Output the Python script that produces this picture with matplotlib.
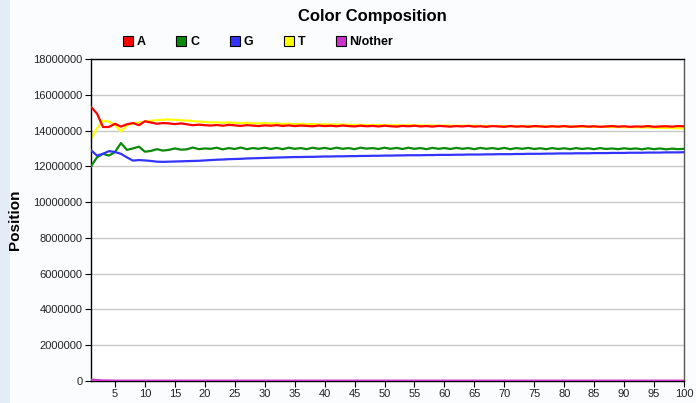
import numpy as np
import matplotlib
matplotlib.use("Agg")
import matplotlib.pyplot as plt
from matplotlib.lines import Line2D
from matplotlib.patches import Rectangle

plt.rcParams['font.family'] = ['Liberation Sans', 'DejaVu Sans']

#########################
######### DATA (values in millions)
#########################

positions = list(range(1, 101))

base_A = [15.32, 14.95, 14.20, 14.20, 14.38, 14.22, 14.35, 14.42, 14.30, 14.52,
          14.45, 14.38, 14.42, 14.40, 14.36, 14.40, 14.35, 14.30, 14.33, 14.30,
          14.28, 14.31, 14.27, 14.32, 14.29, 14.26, 14.30, 14.28, 14.25, 14.29,
          14.27, 14.30, 14.26, 14.29, 14.25, 14.28, 14.26, 14.24, 14.28, 14.25,
          14.27, 14.24, 14.28, 14.25, 14.23, 14.27, 14.24, 14.26, 14.23, 14.27,
          14.24, 14.22, 14.26, 14.24, 14.27, 14.23, 14.25, 14.22, 14.26, 14.24,
          14.22, 14.25, 14.23, 14.26, 14.22, 14.24, 14.21, 14.25, 14.23, 14.21,
          14.25, 14.22, 14.24, 14.21, 14.25, 14.23, 14.21, 14.24, 14.22, 14.25,
          14.21, 14.23, 14.25, 14.22, 14.24, 14.21, 14.23, 14.25, 14.22, 14.24,
          14.21, 14.23, 14.22, 14.25, 14.21, 14.23, 14.24, 14.22, 14.25, 14.24]

base_C = [12.00, 12.50, 12.70, 12.60, 12.80, 13.30, 12.92, 13.00, 13.10, 12.82,
          12.86, 12.96, 12.88, 12.92, 13.00, 12.93, 12.95, 13.05, 12.96, 13.00,
          12.98, 13.04, 12.95, 13.02, 12.97, 13.05, 12.96, 13.02, 12.98, 13.04,
          12.97, 13.03, 12.96, 13.04, 12.98, 13.02, 12.96, 13.04, 12.98, 13.03,
          12.97, 13.04, 12.98, 13.02, 12.96, 13.04, 12.99, 13.02, 12.97, 13.04,
          12.98, 13.03, 12.97, 13.04, 12.98, 13.02, 12.96, 13.03, 12.98, 13.02,
          12.97, 13.03, 12.98, 13.02, 12.96, 13.03, 12.98, 13.02, 12.97, 13.03,
          12.96, 13.02, 12.98, 13.03, 12.97, 13.01, 12.96, 13.02, 12.97, 13.01,
          12.96, 13.02, 12.97, 13.01, 12.96, 13.02, 12.97, 13.00, 12.96, 13.01,
          12.97, 13.00, 12.95, 13.01, 12.96, 13.00, 12.95, 12.99, 12.96, 12.98]

base_G = [12.90, 12.60, 12.70, 12.85, 12.80, 12.70, 12.50, 12.32, 12.35, 12.33,
          12.30, 12.26, 12.25, 12.26, 12.27, 12.28, 12.29, 12.30, 12.31, 12.33,
          12.35, 12.37, 12.38, 12.40, 12.41, 12.42, 12.44, 12.45, 12.46, 12.47,
          12.48, 12.49, 12.50, 12.51, 12.52, 12.52, 12.53, 12.53, 12.54, 12.55,
          12.55, 12.56, 12.56, 12.57, 12.57, 12.58, 12.58, 12.59, 12.59, 12.60,
          12.60, 12.61, 12.61, 12.62, 12.62, 12.62, 12.63, 12.63, 12.64, 12.64,
          12.64, 12.65, 12.65, 12.66, 12.66, 12.66, 12.67, 12.67, 12.68, 12.68,
          12.68, 12.69, 12.69, 12.70, 12.70, 12.70, 12.71, 12.71, 12.72, 12.72,
          12.72, 12.73, 12.73, 12.73, 12.74, 12.74, 12.74, 12.75, 12.75, 12.75,
          12.76, 12.76, 12.76, 12.77, 12.77, 12.77, 12.78, 12.78, 12.78, 12.79]

base_T = [13.56, 14.12, 14.55, 14.50, 14.30, 13.95, 14.30, 14.40, 14.45, 14.50,
          14.55, 14.58, 14.60, 14.62, 14.60, 14.58, 14.56, 14.53, 14.50, 14.48,
          14.45, 14.46, 14.44, 14.45, 14.43, 14.42, 14.43, 14.41, 14.40, 14.41,
          14.39, 14.40, 14.37, 14.38, 14.36, 14.37, 14.35, 14.36, 14.34, 14.35,
          14.34, 14.33, 14.34, 14.32, 14.31, 14.32, 14.30, 14.31, 14.30, 14.31,
          14.29, 14.30, 14.29, 14.30, 14.28, 14.29, 14.28, 14.28, 14.27, 14.28,
          14.27, 14.27, 14.26, 14.27, 14.26, 14.26, 14.25, 14.26, 14.25, 14.25,
          14.24, 14.25, 14.24, 14.24, 14.23, 14.24, 14.23, 14.23, 14.22, 14.23,
          14.22, 14.22, 14.21, 14.22, 14.21, 14.21, 14.20, 14.20, 14.19, 14.19,
          14.18, 14.18, 14.17, 14.17, 14.16, 14.15, 14.15, 14.14, 14.13, 14.12]

base_N = [0.08, 0.05, 0.03, 0.03, 0.02, 0.02, 0.02, 0.02, 0.02, 0.02,
          0.02, 0.02, 0.02, 0.02, 0.02, 0.02, 0.02, 0.02, 0.02, 0.02,
          0.02, 0.02, 0.02, 0.02, 0.02, 0.02, 0.02, 0.02, 0.02, 0.02,
          0.02, 0.02, 0.02, 0.02, 0.02, 0.02, 0.02, 0.02, 0.02, 0.02,
          0.02, 0.02, 0.02, 0.02, 0.02, 0.02, 0.02, 0.02, 0.02, 0.02,
          0.02, 0.02, 0.02, 0.02, 0.02, 0.02, 0.02, 0.02, 0.02, 0.02,
          0.02, 0.02, 0.02, 0.02, 0.02, 0.02, 0.02, 0.02, 0.02, 0.02,
          0.02, 0.02, 0.02, 0.02, 0.02, 0.02, 0.02, 0.02, 0.02, 0.02,
          0.02, 0.02, 0.02, 0.02, 0.02, 0.02, 0.02, 0.02, 0.02, 0.02,
          0.02, 0.02, 0.02, 0.02, 0.02, 0.02, 0.02, 0.02, 0.02, 0.02]

series_names = ['A', 'C', 'G', 'T', 'N/other']
series_colors = ['#ff0000', '#0a8a0a', '#3333ff', '#ffff00', '#cc33cc']
yticks = [0, 2000000, 4000000, 6000000, 8000000, 10000000,
          12000000, 14000000, 16000000, 18000000]
xticks = list(range(5, 101, 5))

#########################
######### PLOT
#########################

fig = plt.figure(figsize=(6.96, 4.03), dpi=100)
fig.patch.set_facecolor('#fbfcfe')
fig.add_artist(Rectangle((0, 0), 10 / 696, 1, transform=fig.transFigure,
                         facecolor='#e4ecf8', edgecolor='none', zorder=0))

ax = fig.add_axes([91 / 696, 1 - 381 / 403, 593 / 696, 322 / 403])
ax.set_facecolor('white')

data = {'A': base_A, 'C': base_C, 'G': base_G, 'T': base_T, 'N/other': base_N}
zorders = {'A': 4, 'C': 3, 'G': 3, 'T': 2.5, 'N/other': 3}
x = np.array(positions)
for name, col in zip(series_names, series_colors):
    y = np.array(data[name]) * 1e6
    ax.plot(x, y, color=col, lw=1.6, zorder=zorders[name])

ax.set_xlim(1, 100)
ax.set_ylim(0, 18000000)
ax.set_yticks(yticks)
ax.set_yticklabels([str(v) for v in yticks])
ax.set_xticks(xticks)
ax.grid(axis='y', color='#c8c8c8', lw=1)
ax.set_axisbelow(True)
ax.tick_params(labelsize=8, length=4, color='black', labelcolor='#222222', pad=2)

for s in ax.spines.values():
    s.set_color('black')
    s.set_linewidth(1)
ax.spines['right'].set_color('#555555')

ax.set_ylabel('Position', fontsize=11, fontweight='bold', labelpad=8)

fig.text(372 / 696, 1 - 16 / 403, 'Color Composition', ha='center', va='center',
         fontsize=12, fontweight='bold')

handles = [Line2D([], [], ls='none', marker='s', markersize=7,
                  markerfacecolor=c, markeredgecolor='black', markeredgewidth=0.8)
           for c in series_colors]
leg = fig.legend(handles, series_names, loc='center left', ncol=5,
                 bbox_to_anchor=(118 / 696, 1 - 42 / 403), frameon=False,
                 prop={'size': 9, 'weight': 'bold'}, handlelength=0.8,
                 handletextpad=0.3, columnspacing=2.45, borderaxespad=0)

fig.savefig('out.png', dpi=100, facecolor=fig.get_facecolor())
